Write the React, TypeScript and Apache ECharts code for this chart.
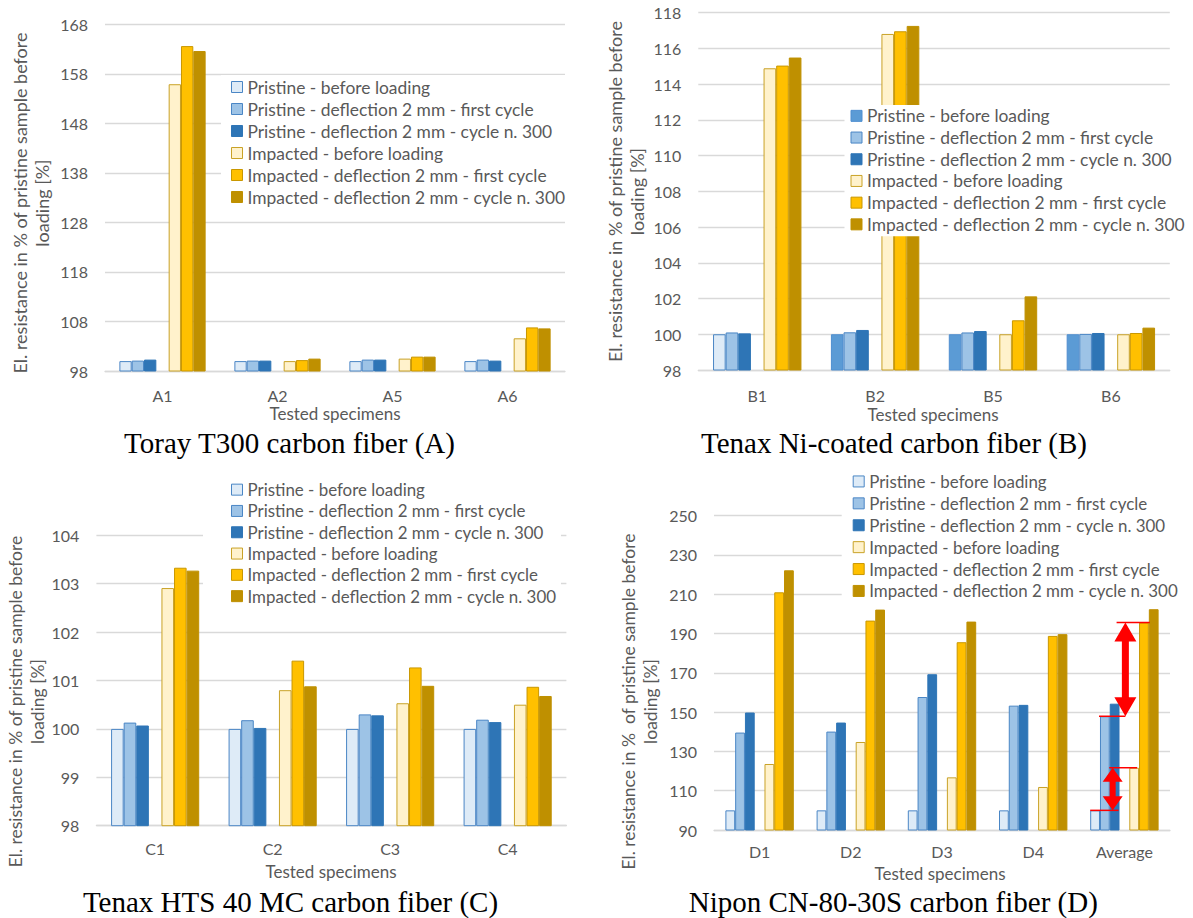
import React, { useEffect, useRef } from 'react';
import * as echarts from 'echarts';

// ---------- data ----------
const seriesNames = [
  'Pristine - before loading',
  'Pristine - deflection 2 mm - first cycle',
  'Pristine - deflection 2 mm - cycle n. 300',
  'Impacted - before loading',
  'Impacted - deflection 2 mm - first cycle',
  'Impacted - deflection 2 mm - cycle n. 300',
];

const catsA = ['A1', 'A2', 'A5', 'A6'];
const aPBefore = [100, 100, 100, 100];
const aPFirst = [100.1, 100.1, 100.3, 100.3];
const aP300 = [100.3, 100.1, 100.3, 100.1];
const aIBefore = [155.9, 100.0, 100.5, 104.6];
const aIFirst = [163.6, 100.2, 100.9, 106.8];
const aI300 = [162.6, 100.5, 100.9, 106.6];

const catsB = ['B1', 'B2', 'B5', 'B6'];
const bPBefore = [100, 100, 100, 100];
const bPFirst = [100.1, 100.11, 100.1, 100.02];
const bP300 = [100.05, 100.24, 100.18, 100.07];
const bIBefore = [114.88, 116.8, 100, 100];
const bIFirst = [115.03, 116.95, 100.78, 100.07];
const bI300 = [115.48, 117.25, 102.12, 100.37];

const catsC = ['C1', 'C2', 'C3', 'C4'];
const cPBefore = [100, 100, 100, 100];
const cPFirst = [100.13, 100.18, 100.3, 100.19];
const cP300 = [100.07, 100.02, 100.28, 100.14];
const cIBefore = [102.91, 100.8, 100.53, 100.5];
const cIFirst = [103.33, 101.41, 101.27, 100.87];
const cI300 = [103.27, 100.88, 100.89, 100.68];

const catsD = ['D1', 'D2', 'D3', 'D4', 'Average'];
const dPBefore = [100, 100, 100, 100, 100];
const dPFirst = [139.6, 140.1, 157.7, 153.3, 147.9];
const dP300 = [149.8, 144.7, 169.3, 153.7, 154.3];
const dIBefore = [123.6, 134.8, 116.8, 111.9, 121.7];
const dIFirst = [211.0, 196.6, 185.6, 188.8, 195.6];
const dI300 = [222.2, 202.2, 196.1, 189.7, 202.4];

const axisA = { min: 98, max: 168, interval: 10 };
const axisB = { min: 98, max: 118, interval: 2 };
const axisC = { min: 98, max: 104, interval: 1 };
const axisD = { min: 90, max: 250, interval: 20 };

const yTitle = 'El. resistance in % of pristine sample before\nloading [%]';
const yTitleD = 'El. resistance in %  of pristine sample before\nloading [%]';
const xTitle = 'Tested specimens';
const captions = [
  'Toray T300 carbon fiber (A)',
  'Tenax Ni-coated carbon fiber (B)',
  'Tenax HTS 40 MC carbon fiber (C)',
  'Nipon CN-80-30S carbon fiber (D)',
];

// ---------- styles / layout ----------
const FONT = 'Lato, "Noto Sans", sans-serif';
const GRAY = '#595959';
const STYLES = [
  { color: '#DEEBF7', borderColor: '#4A86C5' },
  { color: '#9DC3E6', borderColor: '#4A86C5' },
  { color: '#2E75B6', borderColor: '#2E75B6' },
  { color: '#FFF2CC', borderColor: '#C9A227' },
  { color: '#FFC000', borderColor: '#C99700' },
  { color: '#BF9000', borderColor: '#BF9000' },
];
const B_PBEFORE = { color: '#5B9BD5', borderColor: '#4F8ED0' };

const panels = [
  {
    cats: catsA, vals: [aPBefore, aPFirst, aP300, aIBefore, aIFirst, aI300], axis: axisA,
    grid: { left: 105, top: 24.3, width: 460, height: 346.7 },
    legend: { left: 221, top: 75, padding: [1, 6, 5, 10], lh: 22, fs: 17.4 },
    yT: { x: 30.5, y: 203, fs: 18, text: yTitle }, xT: { x: 335, y: 413 }, cap: { x: 289.5, y: 443 },
    labelMargin: 16,
  },
  {
    cats: catsB, vals: [bPBefore, bPFirst, bP300, bIBefore, bIFirst, bI300], axis: axisB,
    grid: { left: 698.3, top: 12.5, width: 471.5, height: 357.5 },
    legend: { left: 844.5, top: 105, padding: [0, 5, 1, 6], lh: 21.7, fs: 17.4 },
    yT: { x: 626, y: 191.5, fs: 18, text: yTitle }, xT: { x: 933, y: 414 }, cap: { x: 894, y: 443 },
    labelMargin: 17,
  },
  {
    cats: catsC, vals: [cPBefore, cPFirst, cP300, cIBefore, cIFirst, cI300], axis: axisC,
    grid: { left: 96.4, top: 535.3, width: 470, height: 290.4 },
    legend: { left: 203, top: 479, padding: [0, 5, 5, 28], lh: 21.3, fs: 16.9 },
    yT: { x: 26.2, y: 701.5, fs: 17.5, text: yTitle }, xT: { x: 331, y: 871.7 }, cap: { x: 290.5, y: 901.7 },
    labelMargin: 15,
  },
  {
    cats: catsD, vals: [dPBefore, dPFirst, dP300, dIBefore, dIFirst, dI300], axis: axisD,
    grid: { left: 714, top: 515.7, width: 456, height: 314.3 },
    legend: { left: 841.7, top: 470.5, padding: [0, 5, 3, 11], lh: 21.9, fs: 16.9 },
    yT: { x: 639, y: 701.5, fs: 17.5, text: yTitleD }, xT: { x: 940, y: 873.5 }, cap: { x: 893.3, y: 901.7 },
    labelMargin: 13,
  },
];

const CAT_GAP = 0.25;

function buildOption(extraGraphics: any[]) {
  const grid: any[] = [];
  const xAxis: any[] = [];
  const yAxis: any[] = [];
  const legend: any[] = [];
  const series: any[] = [];
  const graphic: any[] = [];

  panels.forEach((p, i) => {
    grid.push({ ...p.grid, containLabel: false });
    xAxis.push({
      type: 'category', gridIndex: i, data: p.cats,
      axisLine: { show: true, lineStyle: { color: '#D9D9D9', width: 1.3 } },
      axisTick: { show: false },
      axisLabel: { color: GRAY, fontSize: 16, fontFamily: FONT, margin: p.labelMargin },
    });
    yAxis.push({
      type: 'value', gridIndex: i, min: p.axis.min, max: p.axis.max, interval: p.axis.interval,
      axisLine: { show: false }, axisTick: { show: false },
      splitLine: { lineStyle: { color: '#D9D9D9', width: 1.3 } },
      axisLabel: { color: GRAY, fontSize: 16, fontFamily: FONT, margin: 17 },
    });
    const legendStyles = STYLES.map((s, k) => (i === 1 && k === 0 ? B_PBEFORE : s));
    legend.push({
      orient: 'vertical', left: p.legend.left, top: p.legend.top, padding: p.legend.padding,
      itemGap: 0, itemWidth: 11, itemHeight: 11, icon: 'rect', selectedMode: false,
      backgroundColor: '#ffffff', z: 10,
      textStyle: { color: GRAY, fontSize: p.legend.fs, fontFamily: FONT, lineHeight: p.legend.lh },
      data: seriesNames.map((n, k) => ({ name: n, itemStyle: { ...legendStyles[k], borderWidth: 1 } })),
    });
    const order = [0, 1, 2, -1, 3, 4, 5];
    order.forEach((k) => {
      if (k < 0) {
        series.push({
          type: 'bar', name: 'spacer' + i, xAxisIndex: i, yAxisIndex: i, silent: true,
          barGap: '0%', barCategoryGap: '25%', data: p.cats.map(() => null),
        });
        return;
      }
      const base = STYLES[k];
      const data = p.vals[k].map((v, j) => {
        if (i === 1 && k === 0 && j > 0) return { value: v, itemStyle: { ...B_PBEFORE } };
        return v;
      });
      series.push({
        type: 'bar', name: seriesNames[k], xAxisIndex: i, yAxisIndex: i,
        barGap: '0%', barCategoryGap: '25%',
        itemStyle: { ...base, borderWidth: 1 },
        data,
      });
    });

    graphic.push({
      type: 'text', id: 'yt' + i, x: p.yT.x, y: p.yT.y, rotation: Math.PI / 2,
      style: {
        text: p.yT.text, fill: GRAY, fontSize: p.yT.fs, fontFamily: FONT,
        align: 'center', verticalAlign: 'middle', lineHeight: 22,
      },
    });
    graphic.push({
      type: 'text', id: 'xt' + i, x: p.xT.x, y: p.xT.y,
      style: { text: xTitle, fill: GRAY, fontSize: 17, fontFamily: FONT, align: 'center', verticalAlign: 'middle' },
    });
    graphic.push({
      type: 'text', id: 'cap' + i, x: p.cap.x, y: p.cap.y,
      style: {
        text: captions[i], fill: '#000000', fontSize: 29, fontFamily: '"Liberation Serif", "Times New Roman", serif',
        align: 'center', verticalAlign: 'middle',
      },
    });
  });

  return {
    animation: false,
    backgroundColor: '#ffffff',
    grid, xAxis, yAxis, legend, series,
    graphic: [...graphic, ...extraGraphics],
  };
}

function arrowPoints(x: number, yTop: number, yBot: number, shaftW: number, headW: number, headL: number) {
  return [
    [x, yTop], [x + headW / 2, yTop + headL], [x + shaftW / 2, yTop + headL],
    [x + shaftW / 2, yBot - headL], [x + headW / 2, yBot - headL], [x, yBot],
    [x - headW / 2, yBot - headL], [x - shaftW / 2, yBot - headL], [x - shaftW / 2, yTop + headL],
    [x - headW / 2, yTop + headL],
  ];
}

export default function App() {
  const ref = useRef<HTMLDivElement>(null);
  useEffect(() => {
    if (!ref.current) return;
    const chart = echarts.init(ref.current, null, { renderer: 'svg' });
    chart.setOption(buildOption([]) as any, true);

    // annotation arrows on the "Average" group of panel D, derived from the data
    const di = 3;
    const last = catsD.length - 1;
    const cx = chart.convertToPixel({ xAxisIndex: di } as any, catsD[last]) as unknown as number;
    const yp = (v: number) => chart.convertToPixel({ yAxisIndex: di } as any, v) as unknown as number;
    const band = panels[di].grid.width / catsD.length;
    const slot = (band * (1 - CAT_GAP)) / 7;
    const x0 = cx - 3.5 * slot;
    const red = '#FF0000';
    const yIF = yp(dIFirst[last]);
    const yPF = yp(dPFirst[last]);
    const yIB = yp(dIBefore[last]);
    const yPB = yp(dPBefore[last]);
    const bigX = x0 + 3.6 * slot;
    const smallX = x0 + 2.3 * slot;
    const extra: any[] = [
      { type: 'line', id: 'l1', z: 100, shape: { x1: x0 + 2.7 * slot, y1: yIF, x2: x0 + 6.1 * slot, y2: yIF }, style: { stroke: red, lineWidth: 1.5 } },
      { type: 'line', id: 'l2', z: 100, shape: { x1: x0 + 0.9 * slot, y1: yPF, x2: x0 + 3.6 * slot, y2: yPF }, style: { stroke: red, lineWidth: 1.5 } },
      { type: 'line', id: 'l3', z: 100, shape: { x1: x0 + 1.95 * slot, y1: yIB, x2: x0 + 4.8 * slot, y2: yIB }, style: { stroke: red, lineWidth: 1.5 } },
      { type: 'line', id: 'l4', z: 100, shape: { x1: x0, y1: yPB, x2: x0 + 2.9 * slot, y2: yPB }, style: { stroke: red, lineWidth: 1.5 } },
      { type: 'polygon', id: 'a1', z: 100, shape: { points: arrowPoints(bigX, yIF, yPF, 7, 22, 19) }, style: { fill: red } },
      { type: 'polygon', id: 'a2', z: 100, shape: { points: arrowPoints(smallX, yIB, yPB, 6, 20, 14) }, style: { fill: red } },
    ];
    chart.setOption(buildOption(extra) as any, true);
    return () => chart.dispose();
  }, []);
  return (
    <div
      ref={ref}
      style={{ position: 'absolute', left: 0, top: 0, width: 1193, height: 918, background: '#ffffff' }}
    />
  );
}
